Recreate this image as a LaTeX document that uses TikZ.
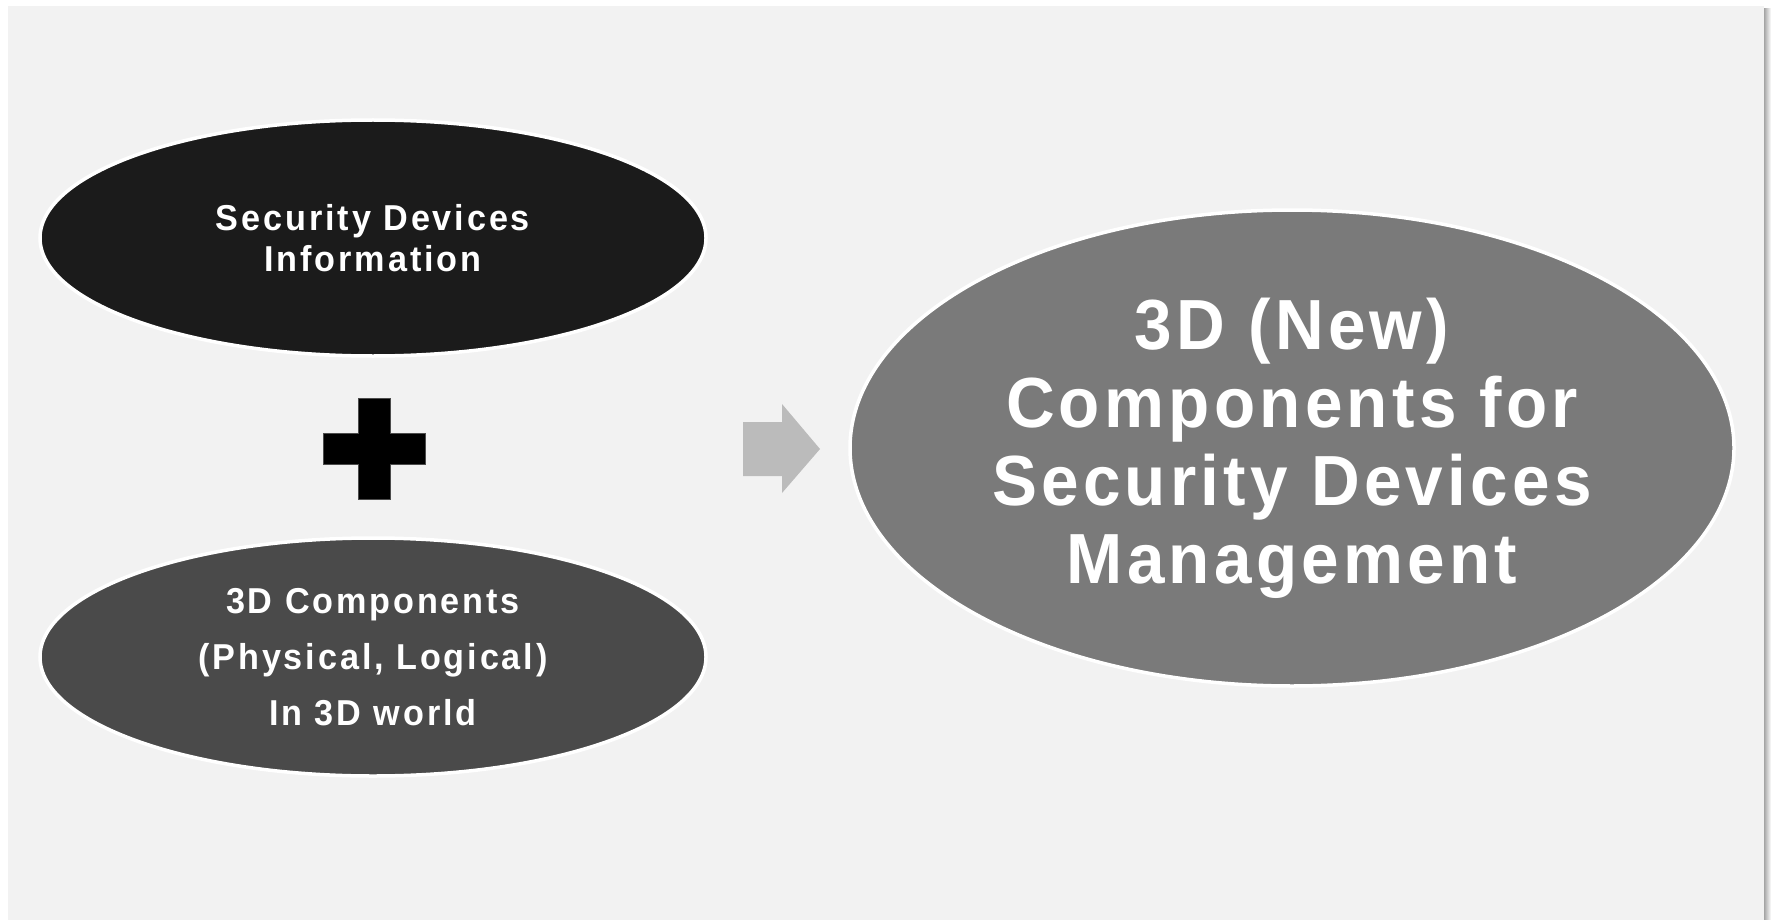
\documentclass[tikz,border=0pt]{standalone}
\usepackage{fontspec}
\setmainfont{Liberation Sans}
\newfontfamily\labelfont{Liberation Sans}[FakeStretch=0.95,LetterSpace=8]
\newfontfamily\titlefont{Liberation Sans}[FakeStretch=0.95,LetterSpace=6]
\usetikzlibrary{shapes.geometric}

\definecolor{panel}{HTML}{F2F2F2}
\definecolor{darkfill}{HTML}{1B1B1B}
\definecolor{midfill}{HTML}{4A4A4A}
\definecolor{bigfill}{HTML}{7A7A7A}
\definecolor{arrowfill}{HTML}{BBBBBB}

\tikzset{
  blob/.style={ellipse, draw=white, line width=3.5pt, inner sep=0pt,
    text=white, align=center},
}

\begin{document}
\begin{tikzpicture}[x=1pt, y=-1pt]
  \useasboundingbox (0,0) rectangle (1771,920);
  % page with a soft shadow on its right side
  \shade[left color=black!40, right color=white] (1763,9) rectangle (1771,920);
  \fill[panel] (8,6) rectangle (1764,920);

  % the two inputs
  \node[blob, fill=darkfill, minimum width=666pt, minimum height=236pt,
    font=\labelfont\bfseries\fontsize{36}{41}\selectfont]
    (info) at (373,238) {Security Devices\\Information};
  \node[blob, fill=midfill, minimum width=666pt, minimum height=238pt,
    font=\labelfont\bfseries\fontsize{36}{56}\selectfont]
    (comp) at (373,657) {3D Components\\(Physical, Logical)\\In 3D world};

  % plus sign between them
  \fill[black, draw=black!70, line width=0.6pt]
    (358,398) -- (390,398) -- (390,433) -- (425,433) -- (425,464) -- (390,464)
    -- (390,499) -- (358,499) -- (358,464) -- (323,464) -- (323,433) -- (358,433)
    -- cycle;

  % block arrow towards the result
  \fill[arrowfill]
    (743,422) -- (782,422) -- (782,404) -- (820,449) -- (782,493) -- (782,476)
    -- (743,476) -- cycle;

  % the result
  \node[blob, fill=bigfill, minimum width=884pt, minimum height=476pt,
    font=\titlefont\bfseries\fontsize{71}{78}\selectfont]
    (result) at (1292,448) {3D (New)\\Components for\\Security Devices\\Management};
\end{tikzpicture}
\end{document}
